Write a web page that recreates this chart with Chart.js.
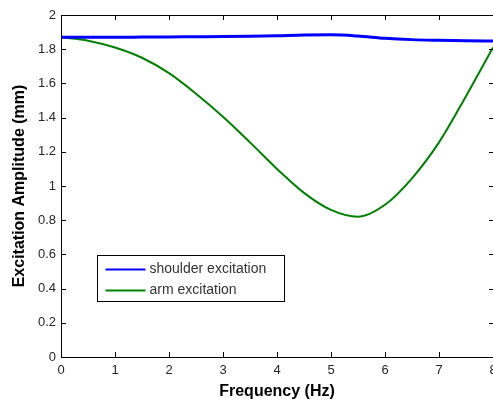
<!DOCTYPE html>
<html>
<head>
<meta charset="utf-8">
<script src="https://cdn.jsdelivr.net/npm/chart.js@4/dist/chart.umd.min.js"></script>
<style>
  html, body { margin: 0; padding: 0; background: #fff; overflow: hidden; }
  #wrap { width: 493px; height: 401px; }
</style>
</head>
<body>
<div id="wrap"><canvas id="c" width="493" height="401"></canvas></div>
<script>
// frequency sweep, 0.5 Hz steps
const freq = [0, 0.5, 1, 1.5, 2, 2.5, 3, 3.5, 4, 4.5, 5, 5.5, 6, 6.5, 7, 7.5, 8];
const shoulder = [1.870, 1.870, 1.870, 1.871, 1.872, 1.873, 1.874, 1.876, 1.879, 1.883, 1.884, 1.877, 1.864, 1.856, 1.852, 1.849, 1.848];
const arm = [1.870, 1.850, 1.810, 1.750, 1.660, 1.540, 1.405, 1.255, 1.100, 0.960, 0.860, 0.820, 0.890, 1.045, 1.255, 1.525, 1.810];
const xTicks = [0, 1, 2, 3, 4, 5, 6, 7, 8];
const yTicks = [0, 0.2, 0.4, 0.6, 0.8, 1, 1.2, 1.4, 1.6, 1.8, 2];

const pts = ys => freq.map((f, i) => ({ x: f, y: ys[i] }));
const FONT = '"Liberation Sans", Arial, sans-serif';

// matlab-ish frame: box + inward ticks + boxed legend
const frame = {
  id: 'frame',
  afterDraw(chart) {
    const { ctx, chartArea: a, scales: { x, y } } = chart;
    ctx.save();
    ctx.strokeStyle = '#000';
    ctx.lineWidth = 1;
    ctx.beginPath();
    ctx.moveTo(a.right + 2, a.top + 0.5); ctx.lineTo(a.left + 0.5, a.top + 0.5);
    ctx.lineTo(a.left + 0.5, a.bottom + 0.5); ctx.lineTo(a.right + 2, a.bottom + 0.5);
    ctx.stroke();
    ctx.beginPath();
    xTicks.forEach(v => {
      const px = Math.round(x.getPixelForValue(v)) + 0.5;
      ctx.moveTo(px, a.bottom); ctx.lineTo(px, a.bottom - 5);
      ctx.moveTo(px, a.top); ctx.lineTo(px, a.top + 5);
    });
    yTicks.forEach(v => {
      const py = Math.round(y.getPixelForValue(v)) + 0.5;
      ctx.moveTo(a.left, py); ctx.lineTo(a.left + 5, py);
      ctx.moveTo(a.right, py); ctx.lineTo(a.right - 4, py);
    });
    ctx.stroke();

    // legend
    const lx = 97.5, ly = 255.5, lw = 187, lh = 46;
    ctx.fillStyle = '#fff';
    ctx.fillRect(lx, ly, lw, lh);
    ctx.strokeRect(lx, ly, lw, lh);
    ctx.font = '14px ' + FONT;
    ctx.textBaseline = 'middle';
    chart.data.datasets.forEach((ds, i) => {
      const yy = ly + 14 + i * 21;
      ctx.strokeStyle = ds.borderColor;
      ctx.lineWidth = 2;
      ctx.beginPath();
      ctx.moveTo(lx + 8, yy); ctx.lineTo(lx + 48, yy);
      ctx.stroke();
      ctx.fillStyle = '#333';
      ctx.fillText(ds.label, lx + 52, yy);
    });
    ctx.restore();
  }
};

new Chart(document.getElementById('c'), {
  type: 'line',
  data: {
    datasets: [
      { label: 'shoulder excitation', data: pts(shoulder), borderColor: '#0000ff',
        borderWidth: 3, pointRadius: 0, cubicInterpolationMode: 'monotone', fill: false },
      { label: 'arm excitation', data: pts(arm), borderColor: '#008000',
        borderWidth: 2, pointRadius: 0, cubicInterpolationMode: 'monotone', fill: false },
    ]
  },
  options: {
    responsive: false,
    animation: false,
    layout: { padding: { top: 15, right: 0, left: 0, bottom: 0 } },
    plugins: { legend: { display: false }, tooltip: { enabled: false } },
    scales: {
      x: {
        type: 'linear', min: 0, max: 8,
        afterFit: s => { s.height = 44; s.paddingRight = 0; s.paddingLeft = 0; },
        afterBuildTicks: s => { s.ticks = xTicks.map(v => ({ value: v })); },
        grid: { display: false, drawTicks: false }, border: { display: false },
        ticks: { color: '#262626', padding: 6, maxRotation: 0, callback: v => String(v),
          font: { family: FONT, size: 13 } },
        title: { display: true, text: 'Frequency (Hz)', color: '#000', padding: { top: 1, bottom: 0 },
          font: { family: FONT, size: 16, weight: 'bold' } }
      },
      y: {
        min: 0, max: 2,
        afterFit: s => { s.width = 61; },
        afterBuildTicks: s => { s.ticks = yTicks.map(v => ({ value: v })); },
        grid: { display: false, drawTicks: false }, border: { display: false },
        ticks: { color: '#262626', padding: 5, callback: v => String(+v.toFixed(1)),
          font: { family: FONT, size: 13 } },
        title: { display: true, text: 'Excitation Amplitude (mm)', color: '#000', padding: { top: 10, bottom: 0 },
          font: { family: FONT, size: 16, weight: 'bold' } }
      }
    }
  },
  plugins: [frame]
});
</script>
</body>
</html>
